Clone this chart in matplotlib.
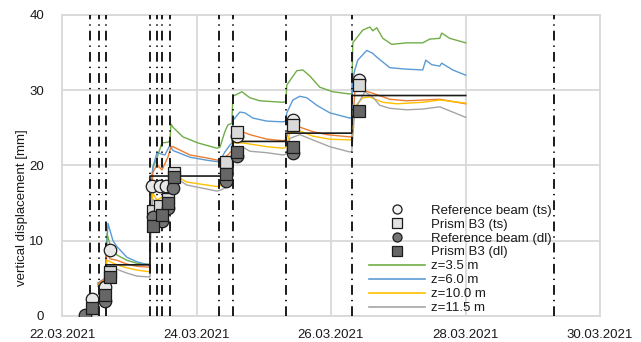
import matplotlib
matplotlib.use("Agg")
import matplotlib.pyplot as plt
import matplotlib.dates as mdates
import pandas as pd
from matplotlib.lines import Line2D

plt.rcParams['font.family'] = ['Liberation Sans', 'DejaVu Sans']

base = pd.Timestamp('2021-03-22')

# times in days after 22.03.2021 00:00
green_t = [0.535, 0.639, 0.669, 0.713, 0.818, 0.966, 1.115, 1.278, 1.308, 1.322, 1.352, 1.412, 1.486, 1.575, 1.605, 1.620, 1.649, 1.798, 2.021, 2.303, 2.348, 2.422, 2.467, 2.526, 2.541, 2.675, 2.793, 2.942, 3.284, 3.328, 3.343, 3.492, 3.581, 3.685, 3.834, 4.027, 4.279, 4.309, 4.324, 4.473, 4.577, 4.621, 4.681, 4.770, 4.903, 5.126, 5.364, 5.468, 5.617, 5.646, 5.765, 6.003]
green_v = [4.2, 4.8, 11.0, 9.5, 8.1, 7.4, 7.0, 6.9, 6.9, 17.0, 19.7, 21.0, 23.0, 23.1, 23.3, 25.5, 25.1, 23.8, 23.0, 22.3, 22.4, 24.5, 25.4, 25.6, 29.2, 29.8, 29.0, 28.6, 28.4, 28.5, 30.7, 32.6, 32.7, 31.9, 30.4, 29.8, 29.5, 29.6, 36.3, 38.0, 38.4, 37.9, 38.3, 36.9, 36.1, 36.3, 36.3, 36.8, 36.9, 37.6, 36.9, 36.3]

blue_t = [0.535, 0.639, 0.684, 0.758, 0.818, 0.966, 1.115, 1.278, 1.308, 1.322, 1.352, 1.412, 1.530, 1.605, 1.649, 1.902, 2.155, 2.318, 2.348, 2.422, 2.496, 2.526, 2.541, 2.645, 2.719, 2.838, 3.046, 3.284, 3.328, 3.343, 3.432, 3.536, 3.640, 3.789, 3.982, 4.279, 4.309, 4.324, 4.354, 4.398, 4.532, 4.621, 4.681, 4.874, 5.126, 5.364, 5.409, 5.498, 5.617, 5.646, 5.810, 6.003]
blue_v = [4.4, 5.0, 12.3, 10.0, 9.2, 7.8, 7.2, 6.8, 6.6, 17.0, 19.8, 21.7, 21.4, 22.7, 22.0, 21.1, 20.7, 20.5, 20.6, 21.8, 22.7, 23.0, 26.0, 27.1, 27.0, 26.3, 25.9, 25.8, 25.9, 27.0, 28.7, 29.2, 29.0, 28.0, 27.0, 26.3, 26.4, 31.5, 32.7, 34.0, 35.3, 34.9, 34.4, 33.0, 32.8, 32.7, 34.0, 33.4, 33.2, 33.6, 32.7, 32.0]

orange_t = [0.535, 0.639, 0.669, 0.713, 0.818, 0.966, 1.115, 1.278, 1.308, 1.322, 1.352, 1.412, 1.486, 1.575, 1.620, 1.649, 1.902, 2.155, 2.318, 2.348, 2.467, 2.526, 2.541, 2.645, 2.793, 3.046, 3.284, 3.328, 3.388, 3.536, 3.730, 3.938, 4.279, 4.309, 4.354, 4.473, 4.621, 4.874, 5.126, 5.617, 6.003]
orange_v = [4.3, 5.0, 8.5, 7.6, 7.4, 6.9, 6.6, 6.5, 6.5, 15.0, 19.1, 20.1, 19.4, 21.1, 22.5, 22.5, 21.4, 21.0, 20.7, 20.7, 21.4, 22.0, 24.5, 24.6, 24.1, 23.5, 23.3, 23.4, 25.0, 25.1, 24.5, 24.1, 23.8, 23.9, 29.8, 30.0, 29.6, 28.8, 28.6, 28.8, 28.2]

yellow_t = [0.535, 0.639, 0.669, 0.818, 0.966, 1.115, 1.278, 1.308, 1.322, 1.352, 1.412, 1.486, 1.575, 1.649, 1.753, 1.857, 2.303, 2.348, 2.467, 2.526, 2.541, 2.689, 3.046, 3.284, 3.328, 3.388, 3.536, 3.730, 3.982, 4.279, 4.309, 4.354, 4.473, 4.577, 4.770, 4.978, 5.364, 5.617, 6.003]
yellow_v = [4.0, 4.6, 7.4, 6.8, 6.4, 6.1, 5.9, 5.9, 14.0, 16.3, 15.4, 15.8, 16.7, 18.6, 18.3, 17.8, 17.2, 17.3, 17.8, 18.2, 23.0, 23.0, 22.5, 22.3, 22.4, 24.3, 24.6, 23.9, 23.5, 23.4, 23.5, 27.8, 29.0, 29.1, 28.4, 28.2, 28.4, 28.7, 28.3]

gray_t = [0.535, 0.639, 0.669, 0.818, 0.966, 1.115, 1.278, 1.308, 1.322, 1.352, 1.412, 1.486, 1.575, 1.649, 1.753, 1.857, 2.303, 2.348, 2.467, 2.526, 2.541, 2.675, 2.793, 3.046, 3.284, 3.328, 3.388, 3.536, 3.730, 3.982, 4.279, 4.309, 4.354, 4.502, 4.621, 4.725, 4.874, 5.126, 5.364, 5.617, 5.810, 6.003]
gray_v = [3.9, 4.5, 6.5, 6.2, 5.7, 5.3, 5.2, 5.2, 13.5, 15.5, 15.0, 15.3, 16.0, 18.5, 18.0, 17.4, 16.6, 16.7, 17.2, 17.6, 22.2, 22.5, 21.9, 21.7, 21.4, 21.5, 23.6, 24.1, 23.4, 22.5, 21.8, 21.9, 27.4, 29.8, 29.1, 28.0, 27.6, 27.4, 27.5, 27.8, 27.1, 26.4]

step_t = [0.639, 0.654, 1.308, 1.308, 2.541, 2.541, 3.328, 3.328, 4.309, 4.309, 6.003]
step_v = [3.9, 6.8, 6.8, 18.6, 18.6, 23.2, 23.2, 24.3, 24.3, 29.3, 29.3]

event_t = [0.416, 0.550, 0.649, 1.308, 1.412, 1.486, 1.605, 2.333, 2.541, 3.328, 4.309, 7.311]

ref_ts_t = [0.446, 0.639, 0.713, 1.337, 1.456, 1.545, 2.437, 2.600, 3.432, 4.413]
ref_ts_v = [2.2, 3.8, 8.8, 17.3, 17.3, 17.3, 20.0, 23.9, 26.1, 31.4]
prism_ts_t = [0.713, 1.352, 1.456, 1.575, 1.664, 2.437, 2.600, 3.432, 4.413]
prism_ts_v = [5.8, 14.0, 14.6, 15.5, 19.0, 20.4, 24.5, 25.4, 30.7]
ref_dl_t = [0.342, 0.639, 1.352, 1.486, 1.575, 1.649, 2.437, 2.600, 3.432]
ref_dl_v = [0.1, 2.0, 13.2, 12.6, 14.3, 17.0, 18.0, 21.2, 21.7]
prism_dl_t = [0.446, 0.639, 0.713, 1.352, 1.486, 1.575, 1.664, 2.437, 2.600, 3.432, 4.413]
prism_dl_v = [1.0, 2.8, 5.2, 12.0, 13.4, 15.0, 18.5, 18.9, 21.8, 22.5, 27.3]

xtick_labels_dates = ['2021-03-22', '2021-03-24', '2021-03-26', '2021-03-28', '2021-03-30']
yticks = [0, 10, 20, 30, 40]


def T(days):
    return base + pd.to_timedelta(days, unit='D')


fig = plt.figure(figsize=(6.41, 3.42), dpi=100)
ax = fig.add_axes([62/641, 1-316/342, 538/641, 301/342])

gridc = '#d9d9d9'
ax.set_xlim(pd.Timestamp('2021-03-22'), pd.Timestamp('2021-03-30'))
ax.set_ylim(0, 40)
ax.set_yticks(yticks)
ax.set_xticks([pd.Timestamp(d) for d in xtick_labels_dates])
ax.xaxis.set_major_formatter(mdates.DateFormatter('%d.%m.%Y'))
ax.grid(True, color=gridc, lw=1.3, zorder=0)
ax.set_axisbelow(True)
for s in ax.spines.values():
    s.set_color(gridc)
    s.set_linewidth(1.3)
ax.tick_params(length=0, labelsize=9.5, colors='#1a1a1a')
ax.tick_params(axis='y', pad=13)
ax.tick_params(axis='x', pad=9)
ax.set_ylabel('vertical displacement [mm]', fontsize=9.5, color='#1a1a1a')
ax.yaxis.set_label_coords(-0.064, 0.36)

lw = 1.0
ax.plot(T(green_t), green_v, color='#70AD47', lw=lw, zorder=2)
ax.plot(T(blue_t), blue_v, color='#5B9BD5', lw=lw, zorder=2)
ax.plot(T(orange_t), orange_v, color='#ED7D31', lw=lw, zorder=2)
ax.plot(T(yellow_t), yellow_v, color='#FFC000', lw=lw, zorder=2)
ax.plot(T(gray_t), gray_v, color='#A5A5A5', lw=lw, zorder=2)
ax.plot(T(step_t), step_v, color='#1a1a1a', lw=1.2, zorder=3)

for et in event_t:
    ax.axvline(T(et), color='#1a1a1a', lw=1.4, linestyle=(0, (5, 2.6, 0.7, 2.6)), zorder=3)

mk = dict(markeredgecolor='#1a1a1a', markeredgewidth=0.9, linestyle='none', zorder=5)
ax.plot(T(ref_ts_t), ref_ts_v, marker='o', ms=9, markerfacecolor='#e8e8e8', **mk)
ax.plot(T(prism_ts_t), prism_ts_v, marker='s', ms=8, markerfacecolor='#d9d9d9', **mk)
ax.plot(T(ref_dl_t), ref_dl_v, marker='o', ms=9, markerfacecolor='#747474', **mk)
ax.plot(T(prism_dl_t), prism_dl_v, marker='s', ms=8, markerfacecolor='#666666', **mk)

lmk = dict(markeredgecolor='#1a1a1a', markeredgewidth=0.9, linestyle='none', ms=6.5)
handles = [
    Line2D([], [], marker='o', markerfacecolor='#f2f2f2', **lmk),
    Line2D([], [], marker='s', markerfacecolor='#e0e0e0', **lmk),
    Line2D([], [], marker='o', markerfacecolor='#747474', **lmk),
    Line2D([], [], marker='s', markerfacecolor='#666666', **lmk),
    Line2D([], [], color='#70AD47', lw=1.2),
    Line2D([], [], color='#5B9BD5', lw=1.2),
    Line2D([], [], color='#FFC000', lw=1.2),
    Line2D([], [], color='#A5A5A5', lw=1.2),
]
labels = ['Reference beam (ts)', 'Prism B3 (ts)', 'Reference beam (dl)', 'Prism B3 (dl)',
          'z=3.5 m', 'z=6.0 m', 'z=10.0 m', 'z=11.5 m']
leg = ax.legend(handles, labels, loc='lower left', bbox_to_anchor=(0.553, -0.025),
                frameon=False, fontsize=9.5, handlelength=4.3, handletextpad=0.4,
                labelspacing=0.13, borderpad=0.2)
for t in leg.get_texts():
    t.set_color('#1a1a1a')

fig.savefig('out.png', dpi=100)
